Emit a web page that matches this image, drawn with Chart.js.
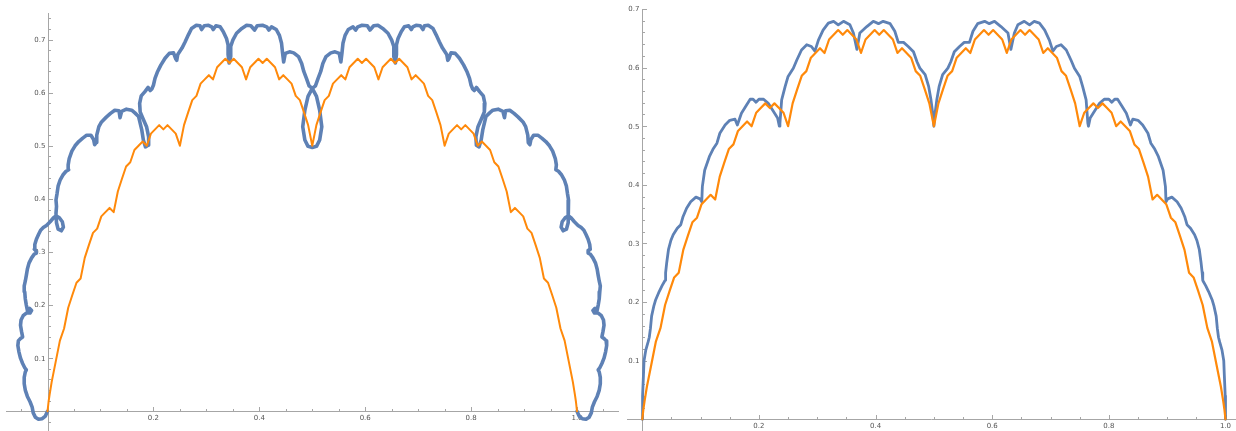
<!DOCTYPE html>
<html>
<head>
<meta charset="utf-8">
<script src="https://cdn.jsdelivr.net/npm/chart.js@4.4.1/dist/chart.umd.min.js"></script>
<style>
  html, body { margin: 0; padding: 0; background: #ffffff; }
  #wrap { position: relative; width: 1236px; height: 431px; overflow: hidden; background: #fff; }
  #cl { position: absolute; left: 0; top: 0; }
  #cr { position: absolute; left: 620px; top: 0; }
</style>
</head>
<body>
<div id="wrap">
  <canvas id="cl" width="620" height="431"></canvas>
  <canvas id="cr" width="616" height="431"></canvas>
</div>
<script>
// ---------------- DATA ----------------

// tick labels
const xTickValues = [0.2, 0.4, 0.6, 0.8, 1.0];
const xTickLabels = ['0.2', '0.4', '0.6', '0.8', '1.0'];
const yTickValues = [0.1, 0.2, 0.3, 0.4, 0.5, 0.6, 0.7];
const yTickLabels = ['0.1', '0.2', '0.3', '0.4', '0.5', '0.6', '0.7'];

// orange curve (same in both panels)
const orangeX = [
  0, .002, .0039,
  .0078, .0156, .0234, .0313, .0391, .0469, .0547, .0625,
  .0703, .0781, .0859, .0938, .1016, .1094, .1172, .125,
  .1328, .1406, .1484, .1563, .1641, .1719, .1797, .1875,
  .1953, .2031, .2109, .2188, .2266, .2344, .2422, .25,
  .2578, .2656, .2734, .2813, .2891, .2969, .3047, .3125,
  .3203, .3281, .3359, .3438, .3516, .3594, .3672, .375,
  .3828, .3906, .3984, .4063, .4141, .4219, .4297, .4375,
  .4453, .4531, .4609, .4688, .4766, .4844, .4922, .5,
  .5078, .5156, .5234, .5313, .5391, .5469, .5547, .5625,
  .5703, .5781, .5859, .5938, .6016, .6094, .6172, .625,
  .6328, .6406, .6484, .6563, .6641, .6719, .6797, .6875,
  .6953, .7031, .7109, .7188, .7266, .7344, .7422, .75,
  .7578, .7656, .7734, .7813, .7891, .7969, .8047, .8125,
  .8203, .8281, .8359, .8438, .8516, .8594, .8672, .875,
  .8828, .8906, .8984, .9063, .9141, .9219, .9297, .9375,
  .9453, .9531, .9609, .9688, .9766, .9844, .9922,
  .9961, .998, 1
];
const orangeY = [
  0, .018, .031,
  .055, .094, .133, .156, .195, .219, .242, .25,
  .289, .313, .336, .344, .367, .375, .383, .375,
  .414, .438, .461, .469, .492, .5, .508, .5,
  .523, .531, .539, .531, .539, .531, .523, .5,
  .539, .563, .586, .594, .617, .625, .633, .625,
  .648, .656, .664, .656, .664, .656, .648, .625,
  .648, .656, .664, .656, .664, .656, .648, .625,
  .633, .625, .617, .594, .586, .563, .539, .5,
  .539, .563, .586, .594, .617, .625, .633, .625,
  .648, .656, .664, .656, .664, .656, .648, .625,
  .648, .656, .664, .656, .664, .656, .648, .625,
  .633, .625, .617, .594, .586, .563, .539, .5,
  .523, .531, .539, .531, .539, .531, .523, .5,
  .508, .5, .492, .469, .461, .438, .414, .375,
  .383, .375, .367, .344, .336, .313, .289, .25,
  .242, .219, .195, .156, .133, .094, .055,
  .031, .018, 0
];

// blue looped curve (left panel), traced in drawing order [x, y]
const blueLoop = [
  [0,0],[-0.004,-0.009],[-0.010,-0.014],[-0.017,-0.015],[-0.023,-0.011],[-0.027,-0.003],
  [-0.029,0.008],[-0.033,0.018],[-0.038,0.028],[-0.042,0.040],[-0.044,0.052],[-0.044,0.064],
  [-0.042,0.074],[-0.040,0.078],[-0.043,0.082],[-0.047,0.090],[-0.051,0.100],[-0.054,0.112],
  [-0.056,0.124],[-0.055,0.133],[-0.051,0.137],[-0.047,0.140],[-0.049,0.150],[-0.051,0.162],
  [-0.050,0.172],[-0.046,0.180],[-0.040,0.185],[-0.033,0.185],[-0.030,0.190],[-0.034,0.194],
  [-0.038,0.190],[-0.040,0.200],[-0.042,0.212],[-0.043,0.225],[-0.044,0.236],[-0.042,0.245],
  [-0.040,0.256],[-0.038,0.268],[-0.035,0.279],[-0.030,0.289],[-0.025,0.296],[-0.021,0.298],
  [-0.022,0.303],[-0.025,0.305],[-0.024,0.314],[-0.021,0.324],[-0.017,0.333],[-0.013,0.341],
  [-0.008,0.346],[-0.002,0.350],[0.005,0.357],[0.011,0.364],[0.016,0.368],[0.022,0.365],
  [0.028,0.357],[0.030,0.347],[0.026,0.340],[0.020,0.343],[0.017,0.355],[0.016,0.373],
  [0.017,0.386],[0.016,0.398],[0.018,0.410],[0.020,0.424],[0.024,0.436],[0.029,0.445],
  [0.035,0.452],[0.040,0.455],[0.039,0.464],[0.041,0.476],[0.046,0.490],[0.052,0.500],
  [0.059,0.508],[0.066,0.514],[0.074,0.520],[0.082,0.520],[0.087,0.512],[0.089,0.502],
  [0.092,0.506],[0.093,0.520],[0.097,0.536],[0.102,0.545],[0.111,0.554],[0.119,0.561],
  [0.127,0.567],[0.135,0.566],[0.137,0.553],[0.140,0.565],[0.149,0.569],[0.159,0.567],
  [0.165,0.562],[0.172,0.555],[0.178,0.530],[0.181,0.511],[0.185,0.498],[0.190,0.501],
  [0.191,0.517],[0.187,0.536],[0.180,0.552],[0.175,0.564],[0.174,0.580],[0.177,0.594],
  [0.184,0.602],[0.190,0.610],[0.194,0.604],[0.197,0.607],[0.200,0.614],[0.203,0.627],
  [0.208,0.640],[0.214,0.652],[0.222,0.665],[0.230,0.674],[0.238,0.675],[0.242,0.664],
  [0.244,0.661],[0.246,0.672],[0.254,0.684],[0.260,0.696],[0.266,0.709],[0.272,0.721],
  [0.281,0.727],[0.288,0.726],[0.291,0.719],[0.296,0.726],[0.304,0.727],[0.310,0.724],
  [0.313,0.719],[0.318,0.726],[0.326,0.724],[0.332,0.715],[0.338,0.702],[0.341,0.690],
  [0.341,0.672],[0.343,0.656],[0.346,0.668],[0.346,0.687],[0.350,0.699],[0.357,0.712],
  [0.367,0.721],[0.376,0.727],[0.384,0.726],[0.391,0.718],[0.396,0.726],[0.406,0.727],
  [0.414,0.724],[0.418,0.718],[0.423,0.724],[0.432,0.719],[0.438,0.708],[0.442,0.693],
  [0.444,0.674],[0.446,0.658],[0.449,0.674],[0.457,0.677],[0.465,0.675],[0.474,0.668],
  [0.480,0.655],[0.484,0.640],[0.489,0.627],[0.494,0.613],[0.500,0.608],[0.508,0.593],
  [0.514,0.567],[0.518,0.536],[0.514,0.511],[0.508,0.499],[0.500,0.497],
  [0.492,0.499],[0.486,0.511],[0.482,0.536],[0.486,0.567],[0.492,0.593],[0.500,0.608],
  [0.506,0.613],[0.511,0.627],[0.516,0.640],[0.520,0.655],[0.526,0.668],[0.535,0.675],
  [0.543,0.677],[0.551,0.674],[0.554,0.658],[0.556,0.674],[0.558,0.693],[0.562,0.708],
  [0.568,0.719],[0.577,0.724],[0.582,0.718],[0.586,0.724],[0.594,0.727],[0.604,0.726],
  [0.609,0.718],[0.616,0.726],[0.624,0.727],[0.633,0.721],[0.643,0.712],[0.650,0.699],
  [0.654,0.687],[0.654,0.668],[0.657,0.656],[0.659,0.672],[0.659,0.690],[0.662,0.702],
  [0.668,0.715],[0.674,0.724],[0.682,0.726],[0.687,0.719],[0.690,0.724],[0.696,0.727],
  [0.704,0.726],[0.709,0.719],[0.712,0.726],[0.719,0.727],[0.728,0.721],[0.734,0.709],
  [0.740,0.696],[0.746,0.684],[0.754,0.672],[0.756,0.661],[0.758,0.664],[0.762,0.675],
  [0.770,0.674],[0.778,0.665],[0.786,0.652],[0.792,0.640],[0.797,0.627],[0.800,0.614],
  [0.803,0.607],[0.806,0.604],[0.810,0.610],[0.816,0.602],[0.823,0.594],[0.826,0.580],
  [0.825,0.564],[0.820,0.552],[0.813,0.536],[0.809,0.517],[0.810,0.501],[0.815,0.498],
  [0.819,0.511],[0.822,0.530],[0.828,0.555],[0.835,0.562],[0.841,0.567],[0.851,0.569],
  [0.860,0.565],[0.863,0.553],[0.865,0.566],[0.873,0.567],[0.881,0.561],[0.889,0.554],
  [0.898,0.545],[0.903,0.536],[0.907,0.520],[0.908,0.506],[0.911,0.502],[0.913,0.512],
  [0.918,0.520],[0.926,0.520],[0.934,0.514],[0.941,0.508],[0.948,0.500],[0.954,0.490],
  [0.959,0.476],[0.961,0.464],[0.960,0.455],[0.965,0.452],[0.971,0.445],[0.976,0.436],
  [0.980,0.424],[0.982,0.410],[0.984,0.398],[0.983,0.386],[0.984,0.373],[0.983,0.355],
  [0.980,0.343],[0.974,0.340],[0.970,0.347],[0.972,0.357],[0.978,0.365],[0.984,0.368],
  [0.989,0.364],[0.995,0.357],[1.002,0.350],[1.008,0.346],[1.013,0.341],[1.017,0.333],
  [1.021,0.324],[1.024,0.314],[1.025,0.305],[1.022,0.303],[1.021,0.298],[1.025,0.296],
  [1.030,0.289],[1.035,0.279],[1.038,0.268],[1.040,0.256],[1.042,0.245],[1.044,0.236],
  [1.043,0.225],[1.042,0.212],[1.040,0.200],[1.038,0.190],[1.034,0.194],[1.030,0.190],
  [1.033,0.185],[1.040,0.185],[1.046,0.180],[1.050,0.172],[1.051,0.162],[1.049,0.150],
  [1.047,0.140],[1.051,0.137],[1.055,0.133],[1.056,0.124],[1.054,0.112],[1.051,0.100],
  [1.047,0.090],[1.043,0.082],[1.040,0.078],[1.042,0.074],[1.044,0.064],[1.044,0.052],
  [1.042,0.040],[1.038,0.028],[1.033,0.018],[1.029,0.008],[1.027,-0.003],[1.023,-0.011],
  [1.017,-0.015],[1.010,-0.014],[1.004,-0.009],[1,0]
];

// blue curve (right panel) [x, y]
const blueGraph = [
  [0,0],[0.0005,0.04],[0.002,0.075],[0.003,0.1],[0.006,0.118],[0.010,0.132],[0.012,0.140],
  [0.014,0.155],[0.016,0.176],[0.020,0.194],[0.023,0.204],[0.029,0.218],[0.034,0.228],
  [0.038,0.235],[0.039,0.237],[0.040,0.250],[0.042,0.268],[0.045,0.290],[0.049,0.305],
  [0.053,0.315],[0.060,0.326],[0.066,0.332],[0.070,0.346],[0.076,0.360],[0.083,0.371],
  [0.092,0.379],[0.099,0.376],[0.102,0.371],[0.103,0.397],[0.107,0.425],[0.115,0.448],
  [0.122,0.462],[0.128,0.471],[0.133,0.488],[0.142,0.502],[0.150,0.510],[0.159,0.512],
  [0.163,0.502],[0.170,0.522],[0.178,0.535],[0.185,0.546],[0.190,0.546],[0.195,0.541],
  [0.200,0.546],[0.208,0.546],[0.216,0.539],[0.225,0.525],[0.232,0.514],[0.235,0.500],
  [0.236,0.505],[0.239,0.545],[0.245,0.568],[0.250,0.585],[0.259,0.599],[0.265,0.613],
  [0.273,0.630],[0.282,0.639],[0.290,0.636],[0.296,0.628],[0.302,0.647],[0.310,0.664],
  [0.319,0.676],[0.328,0.679],[0.336,0.673],[0.345,0.679],[0.356,0.673],[0.362,0.659],
  [0.368,0.631],[0.373,0.659],[0.385,0.670],[0.396,0.679],[0.405,0.675],[0.413,0.679],
  [0.425,0.675],[0.433,0.662],[0.439,0.643],[0.448,0.643],[0.456,0.636],[0.465,0.627],
  [0.471,0.610],[0.476,0.599],[0.485,0.588],[0.491,0.568],[0.495,0.545],[0.498,0.522],
  [0.500,0.500],
  [0.502,0.522],[0.505,0.545],[0.509,0.568],[0.515,0.588],[0.524,0.599],[0.529,0.610],
  [0.535,0.627],[0.544,0.636],[0.552,0.643],[0.561,0.643],[0.567,0.662],[0.575,0.675],
  [0.587,0.679],[0.595,0.675],[0.604,0.679],[0.615,0.670],[0.627,0.659],[0.632,0.631],
  [0.638,0.659],[0.644,0.673],[0.655,0.679],[0.664,0.673],[0.672,0.679],[0.681,0.676],
  [0.690,0.664],[0.698,0.647],[0.704,0.628],[0.710,0.636],[0.718,0.639],[0.727,0.630],
  [0.735,0.613],[0.741,0.599],[0.750,0.585],[0.755,0.568],[0.761,0.545],[0.764,0.505],
  [0.765,0.500],[0.768,0.514],[0.775,0.525],[0.784,0.539],[0.792,0.546],[0.800,0.546],
  [0.805,0.541],[0.810,0.546],[0.815,0.546],[0.822,0.535],[0.830,0.522],[0.837,0.502],
  [0.841,0.512],[0.850,0.510],[0.858,0.502],[0.867,0.488],[0.872,0.471],[0.878,0.462],
  [0.885,0.448],[0.893,0.425],[0.897,0.397],[0.898,0.371],[0.901,0.376],[0.908,0.379],
  [0.917,0.371],[0.924,0.360],[0.930,0.346],[0.934,0.332],[0.940,0.326],[0.947,0.315],
  [0.951,0.305],[0.955,0.290],[0.958,0.268],[0.960,0.250],[0.961,0.237],[0.962,0.235],
  [0.966,0.228],[0.971,0.218],[0.977,0.204],[0.980,0.194],[0.984,0.176],[0.986,0.155],
  [0.988,0.140],[0.990,0.132],[0.994,0.118],[0.997,0.1],[0.998,0.075],[0.9995,0.04],[1,0]
];

// ---------------- RENDERING ----------------
const BLUE = 'rgb(94,129,181)';
const ORANGE = 'rgb(255,137,10)';

const orangeData = orangeX.map((x, i) => ({ x: x, y: orangeY[i] }));
const toXY = arr => arr.map(p => ({ x: p[0], y: p[1] }));

// Mathematica-like axes crossing at the origin, ticks pointing inward
const mmaAxes = {
  id: 'mmaAxes',
  beforeDatasetsDraw(chart, args, o) {
    const { ctx, chartArea: a } = chart;
    const xs = chart.scales.x, ys = chart.scales.y;
    const x0 = Math.round(xs.getPixelForValue(0)) + 0.5;
    const y0 = Math.round(ys.getPixelForValue(0)) + 0.5;
    ctx.save();
    ctx.strokeStyle = o.axisColor;
    ctx.lineWidth = 1;
    ctx.beginPath();
    ctx.moveTo(a.left, y0); ctx.lineTo(a.right, y0);
    ctx.moveTo(x0, a.top); ctx.lineTo(x0, a.bottom);
    ctx.stroke();

    const near = (v, list) => list.some(t => Math.abs(t - v) < 1e-6);
    ctx.beginPath();
    // x minor/major ticks
    for (let i = Math.ceil(xs.min / 0.05); i * 0.05 <= xs.max; i++) {
      const v = +(i * 0.05).toFixed(4);
      if (Math.abs(v) < 1e-9) continue;
      const len = near(v, o.xMajor) ? 4.5 : 2.5;
      const px = Math.round(xs.getPixelForValue(v)) + 0.5;
      ctx.moveTo(px, y0); ctx.lineTo(px, y0 - len);
    }
    // y minor/major ticks
    for (let i = Math.ceil(ys.min / 0.02); i * 0.02 <= ys.max + 1e-9; i++) {
      const v = +(i * 0.02).toFixed(4);
      if (Math.abs(v) < 1e-9) continue;
      const isMajor = near(v, o.yMajor);
      const len = isMajor ? 4.5 : 2.5;
      const py = Math.round(ys.getPixelForValue(v)) + 0.5;
      ctx.moveTo(x0, py); ctx.lineTo(x0 + len, py);
    }
    ctx.stroke();

    ctx.fillStyle = o.labelColor;
    ctx.font = o.font;
    ctx.textAlign = 'center';
    ctx.textBaseline = 'middle';
    o.xMajor.forEach((v, i) => {
      ctx.fillText(o.xLabels[i], xs.getPixelForValue(v), y0 + o.xLabelOffset);
    });
    ctx.textAlign = 'right';
    o.yMajor.forEach((v, i) => {
      ctx.fillText(o.yLabels[i], x0 - 3, ys.getPixelForValue(v) + 0.5);
    });
    ctx.restore();
  }
};

function makeChart(id, blueData, blueWidth, orangeWidth, xr, yr, pad) {
  return new Chart(document.getElementById(id), {
    type: 'scatter',
    data: {
      datasets: [
        { data: orangeData, showLine: true, borderColor: ORANGE, borderWidth: orangeWidth,
          pointRadius: 0, tension: 0, clip: false },
        { data: blueData, showLine: true, borderColor: BLUE, borderWidth: blueWidth,
          pointRadius: 0, tension: 0, clip: false }
      ]
    },
    options: {
      responsive: false,
      animation: false,
      devicePixelRatio: 1,
      layout: { padding: pad },
      elements: { line: { borderJoinStyle: 'round', borderCapStyle: 'round' } },
      scales: {
        x: { type: 'linear', display: false, min: xr[0], max: xr[1] },
        y: { type: 'linear', display: false, min: yr[0], max: yr[1] }
      },
      plugins: {
        legend: { display: false },
        tooltip: { enabled: false },
        mmaAxes: {
          axisColor: '#a6a6a6', labelColor: '#555555', font: '7px "DejaVu Sans"',
          xMajor: xTickValues, xLabels: xTickLabels,
          yMajor: yTickValues, yLabels: yTickLabels,
          xLabelOffset: 7
        }
      }
    },
    plugins: [mmaAxes]
  });
}

makeChart('cl', toXY(blueLoop), 3.6, 2, [-0.0784, 1.0793], [-0.0371, 0.7501],
  { left: 6, right: 1, top: 13, bottom: 0 });
makeChart('cr', toXY(blueGraph), 2.8, 2.2, [-0.0262, 1.018], [-0.02, 0.70],
  { left: 7, right: 0, top: 9, bottom: 0 });
</script>
</body>
</html>
